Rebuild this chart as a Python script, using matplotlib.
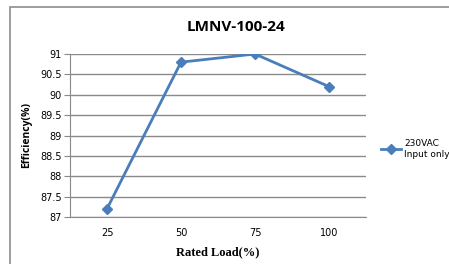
import matplotlib
matplotlib.use("Agg")
import matplotlib.pyplot as plt
from matplotlib.patches import Rectangle

# data
loads = ["25", "50", "75", "100"]
efficiency = [87.2, 90.8, 91.0, 90.2]
y_ticks = [87, 87.5, 88, 88.5, 89, 89.5, 90, 90.5, 91]
series_label = "230VAC\nInput only"


def main():
    fig = plt.figure(figsize=(4.49, 2.64), dpi=100)

    # outer chart frame (runs off the right and bottom edges)
    fig.patches.append(Rectangle((10 / 449, -0.1), 1.2, 1 - 7 / 264 + 0.1,
                                 transform=fig.transFigure, fill=False,
                                 edgecolor="#8c8c8c", linewidth=1.2))

    ax = fig.add_axes([70 / 449, 1 - 217 / 264, 296 / 449, 163 / 264])

    x = list(range(len(loads)))
    line_color = "#4a7ebb"
    ax.plot(x, efficiency, color=line_color, linewidth=2, marker="D",
            markersize=5, label=series_label)

    ax.set_xlim(-0.5, len(loads) - 0.5)
    ax.set_ylim(87, 91)
    ax.set_xticks(x)
    ax.set_xticklabels(loads)
    ax.set_yticks(y_ticks)
    ax.set_yticklabels([f"{v:g}" for v in y_ticks])

    ax.grid(axis="y", color="#8a8a8a", linewidth=1)
    ax.set_axisbelow(True)
    for side in ["top", "right"]:
        ax.spines[side].set_visible(False)
    ax.spines["left"].set_color("#8a8a8a")
    ax.spines["bottom"].set_color("#8a8a8a")
    ax.tick_params(axis="y", length=4, color="#8a8a8a", labelsize=7, pad=2)
    ax.tick_params(axis="x", length=0, labelsize=7, pad=8)

    ax.set_ylabel("Efficiency(%)", fontsize=7.5, fontweight="bold",
                  family="Open Sans", labelpad=6)
    ax.set_xlabel("Rated Load(%)", fontsize=9, fontweight="bold",
                  family="Liberation Serif", labelpad=6)

    fig.text(236 / 449, 1 - 27 / 264, "LMNV-100-24", ha="center", va="center",
             fontsize=11, fontweight="bold", family="Open Sans")

    fig.legend(loc="center left", bbox_to_anchor=(376 / 449, 1 - 149 / 264),
               frameon=False, fontsize=6.5, handlelength=2.3,
               handletextpad=0.3, borderpad=0)

    plt.savefig("out.png", dpi=100)


if __name__ == "__main__":
    main()
